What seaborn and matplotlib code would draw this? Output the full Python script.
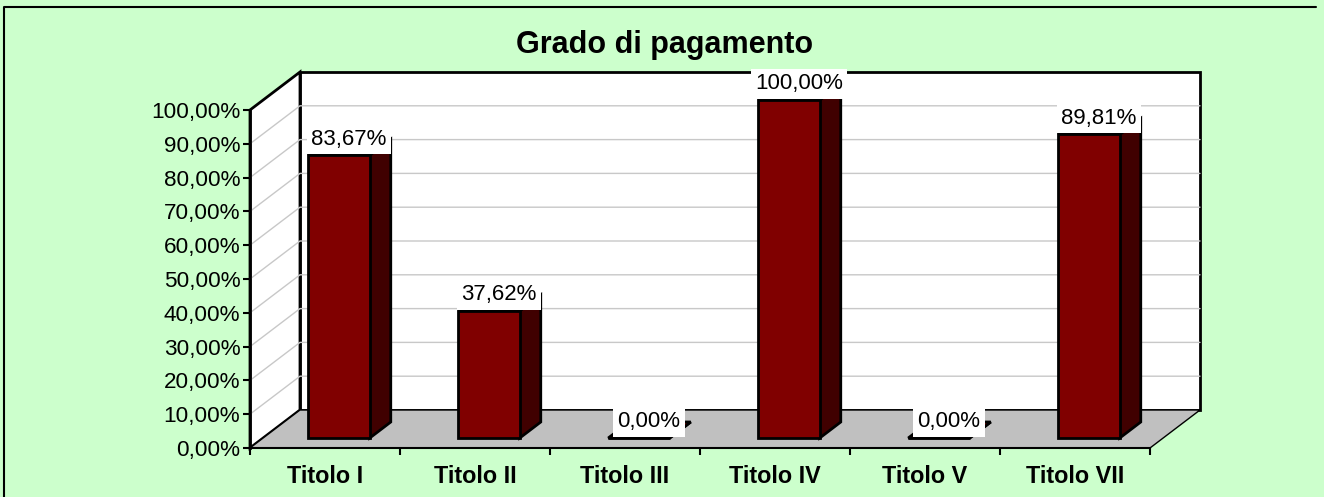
import numpy as np
import matplotlib
matplotlib.use('Agg')
import matplotlib.pyplot as plt
from matplotlib.patches import Polygon, Rectangle
from matplotlib.lines import Line2D
from matplotlib.transforms import Affine2D
import seaborn as sns

# data
categories = ['Titolo I', 'Titolo II', 'Titolo III', 'Titolo IV', 'Titolo V', 'Titolo VII']
values = [83.67, 37.62, 0.00, 100.00, 0.00, 89.81]
y_ticks = [0, 10, 20, 30, 40, 50, 60, 70, 80, 90, 100]
title = 'Grado di pagamento'


def pct(v):
    return f"{v:.2f}%".replace('.', ',')


sns.set_theme(style='white', rc={'text.color': 'black', 'xtick.color': 'black',
                                 'ytick.color': 'black', 'axes.labelcolor': 'black'})
plt.rcParams['font.family'] = ['Liberation Sans', 'DejaVu Sans']

W, H = 1324, 497
fig = plt.figure(figsize=(W / 100, H / 100), dpi=100, facecolor='#CCFFCC')
# front plane of the 3D box
ax = fig.add_axes([250 / W, (H - 448) / H, 900 / W, 338 / H])
ax.patch.set_visible(False)

sns.barplot(x=categories, y=values, color='#800000', saturation=1, width=0.41,
            edgecolor='black', linewidth=2, ax=ax, zorder=4)
bars = list(ax.patches)
ax.set_xlim(-0.5, 5.5)
ax.set_ylim(0, 100)
ax.set_xlabel('')
ax.set_ylabel('')

# pixel -> data conversion for the perspective offsets
sx, sy = 900 / 6, 338 / 100
wall_dx, wall_dy = 50 / sx, 38 / sy
bar_ox, bar_oy = 14 / sx, 10 / sy
bar_dx, bar_dy = 21 / sx, 16 / sy
x0, x1 = ax.get_xlim()
top = ax.get_ylim()[1]

# walls and floor
ax.add_patch(Rectangle((x0 + wall_dx, wall_dy), x1 - x0, top, fc='white', ec='black',
                       lw=2, zorder=0, clip_on=False))
ax.add_patch(Polygon([(x0, 0), (x0, top), (x0 + wall_dx, top + wall_dy), (x0 + wall_dx, wall_dy)],
                     fc='white', ec='black', lw=2, zorder=0.5, clip_on=False))
for v in y_ticks[1:-1]:
    ax.plot([x0, x0 + wall_dx, x1 + wall_dx], [v, v + wall_dy, v + wall_dy],
            color='#C8C8C8', lw=1, zorder=1, clip_on=False)
ax.add_patch(Polygon([(x0, 0), (x1, 0), (x1 + wall_dx, wall_dy), (x0 + wall_dx, wall_dy)],
                     fc='#C0C0C0', ec='black', lw=1, zorder=2, clip_on=False))

# shift bars into the box and add side / top faces
shift = Affine2D().translate(bar_ox, bar_oy) + ax.transData
for bar, v in zip(bars, values):
    bar.set_transform(shift)
    bar.set_clip_on(False)
    bx0 = bar.get_x() + bar_ox
    bx1 = bx0 + bar.get_width()
    b0 = bar_oy
    b1 = bar.get_height() + bar_oy
    ax.add_patch(Polygon([(bx1, b0), (bx1, b1), (bx1 + bar_dx, b1 + bar_dy), (bx1 + bar_dx, b0 + bar_dy)],
                         fc='#400000', ec='black', lw=2, zorder=3, clip_on=False))
    ax.add_patch(Polygon([(bx0, b1), (bx1, b1), (bx1 + bar_dx, b1 + bar_dy), (bx0 + bar_dx, b1 + bar_dy)],
                         fc='#800000', ec='black', lw=2, zorder=3, clip_on=False))
    ax.annotate(pct(v), xy=((bx0 + bx1) / 2, b1), xytext=(10, 16), textcoords='offset pixels',
                ha='center', va='center', fontsize=16, zorder=10, annotation_clip=False,
                bbox=dict(boxstyle='square,pad=0.2', fc='white', ec='none'))

# axes and ticks
ax.set_yticks(y_ticks)
ax.set_yticklabels([pct(v) for v in y_ticks], fontsize=16.2)
ax.tick_params(axis='y', left=True, length=5, width=1.5, pad=2)
ax.set_xticks(range(len(categories)))
ax.set_xticklabels(categories, fontsize=16.8, fontweight='bold')
ax.set_xticks(np.arange(-0.5, len(categories), 1), minor=True)
ax.tick_params(axis='x', which='major', length=0, pad=12)
ax.tick_params(axis='x', which='minor', bottom=True, length=5, width=1.5)
ax.spines[['top', 'right']].set_visible(False)
ax.spines['left'].set_color('black')
ax.spines['left'].set_linewidth(2)
ax.spines['bottom'].set_color('black')
ax.spines['bottom'].set_linewidth(1.5)

fig.text(665 / W, 1 - 45 / H, title, ha='center', va='center', fontsize=22, fontweight='bold')
# chart frame: only the top and left edges are visible in the reference
fig.lines.append(Line2D([4 / W, 4 / W, 1316 / W], [0, 1 - 7 / H, 1 - 7 / H],
                        transform=fig.transFigure, color='black', lw=1.5))

fig.savefig('out.png', dpi=100, facecolor=fig.get_facecolor())
